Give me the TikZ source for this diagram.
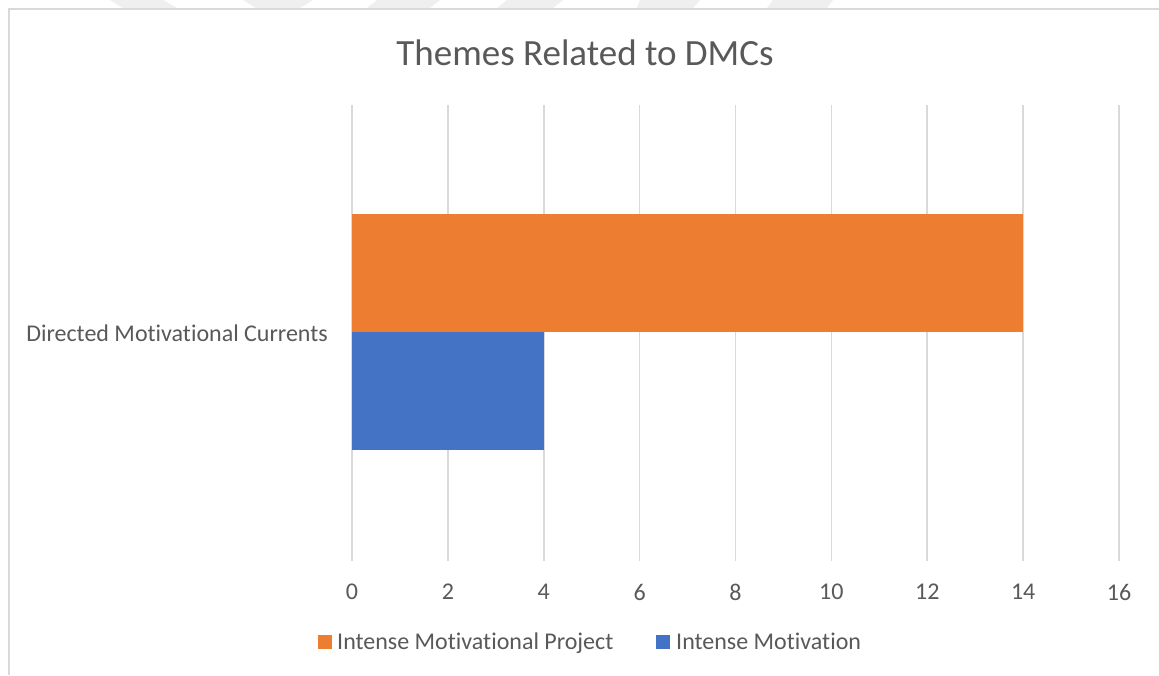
\documentclass[tikz,border=0pt]{standalone}
\usepackage{fontspec}
\setmainfont{Carlito}[Ligatures=NoCommon]
\begin{document}
\begin{tikzpicture}[x=1pt,y=-1pt,
  txt/.style={text=labelgray,inner sep=0pt,font=\fontsize{24}{28}\selectfont},
  grid/.style={draw=gridgray,line width=1.6pt},
  frame/.style={draw=gridgray,line width=2pt},
  wmark/.style={fill=wmgray,draw=none},
  swatch/.style={minimum size=14pt,inner sep=0pt,draw=none}]
\definecolor{labelgray}{HTML}{595959}
\definecolor{gridgray}{HTML}{D9D9D9}
\definecolor{wmgray}{HTML}{EFEFEF}
\definecolor{barorange}{HTML}{ED7D31}
\definecolor{barblue}{HTML}{4472C4}
\useasboundingbox[fill=white] (0,0) rectangle (1159,675);

% faint bands along the top edge
\fill[wmark] (110,0) -- (163,0) -- (177,8) -- (123,8) -- cycle;
\fill[wmark] (243,0) -- (313,0) -- (300,8) -- (256,8) -- cycle;
\fill[wmark] (377,0) -- (440,0) -- (430,8) -- (367,8) -- cycle;
\fill[wmark] (507,0) -- (563,0) -- (553,8) -- (497,8) -- cycle;
\fill[wmark] (640,0) -- (700,0) -- (693,8) -- (637,8) -- cycle;
\fill[wmark] (773,0) -- (833,0) -- (827,8) -- (767,8) -- cycle;

% chart frame
\draw[frame] (1159,9) -- (8.5,9) -- (8.5,675);

% title
\node[txt,font=\fontsize{37}{44}\selectfont] (title) at (585,53) {Themes Related to DMCs};

% vertical grid lines and value axis labels
\foreach \v in {0,2,...,16}{
  \draw[grid] ({352+47.94*\v},105) -- ({352+47.94*\v},561);
  \node[txt] (tick\v) at ({352+47.94*\v},592) {\v};
}

% bars
\fill[barorange] (352,214) rectangle ({352+47.94*14},332);
\fill[barblue] (352,332) rectangle ({352+47.94*4},450);

% category label
\node[txt,anchor=base east] (cat) at (328,341) {Directed Motivational Currents};

% legend
\node[swatch,fill=barorange] (sw1) at (325,642) {};
\node[txt,anchor=base west] (leg1) at (337,649) {Intense Motivational Project};
\node[swatch,fill=barblue] (sw2) at (663,642) {};
\node[txt,anchor=base west] (leg2) at (676,649) {Intense Motivation};
\end{tikzpicture}
\end{document}
